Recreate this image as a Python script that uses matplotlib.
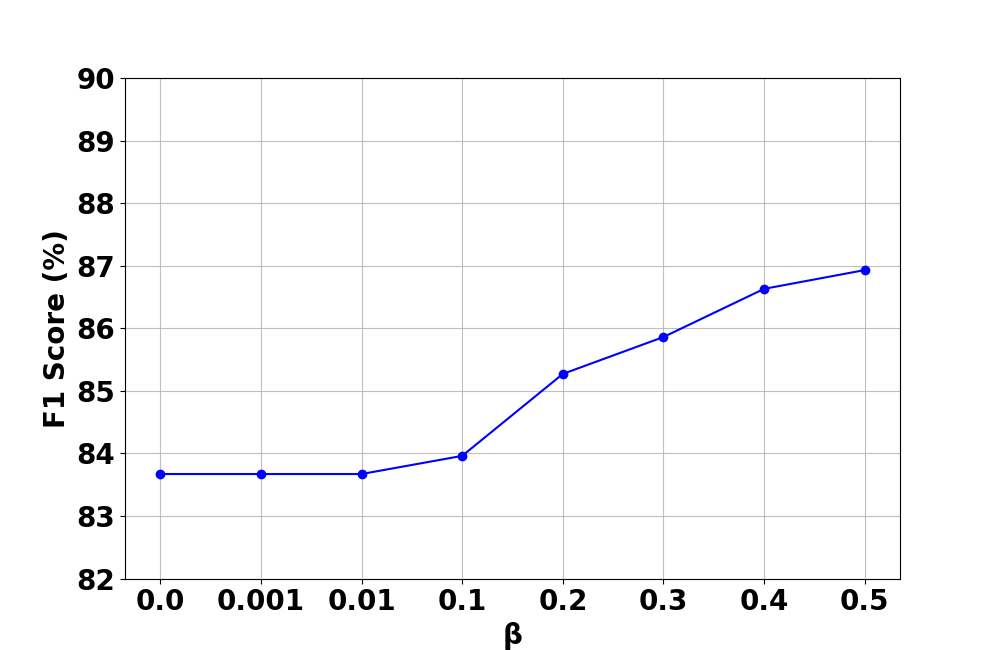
import matplotlib
matplotlib.use("Agg")
import matplotlib.pyplot as plt

beta_labels = ["0.0", "0.001", "0.01", "0.1", "0.2", "0.3", "0.4", "0.5"]
f1_scores = [83.67, 83.67, 83.67, 83.96, 85.27, 85.86, 86.63, 86.93]

fig, ax = plt.subplots(figsize=(10, 6.5), dpi=100)
x = list(range(len(beta_labels)))
ax.plot(x, f1_scores, color="blue", marker="o", linewidth=1.5, markersize=6)
ax.set_xticks(x)
ax.set_xticklabels(beta_labels, fontsize=20, fontweight="bold")
ax.set_ylim(82, 90)
ax.set_yticks(range(82, 91))
ax.set_yticklabels([str(v) for v in range(82, 91)], fontsize=20, fontweight="bold")
ax.set_xlabel("β", fontsize=20, fontweight="bold")
ax.set_ylabel("F1 Score (%)", fontsize=20, fontweight="bold")
ax.grid(True, color="#b0b0b0", linewidth=0.8, alpha=0.8)
fig.savefig("out.png", dpi=100)
